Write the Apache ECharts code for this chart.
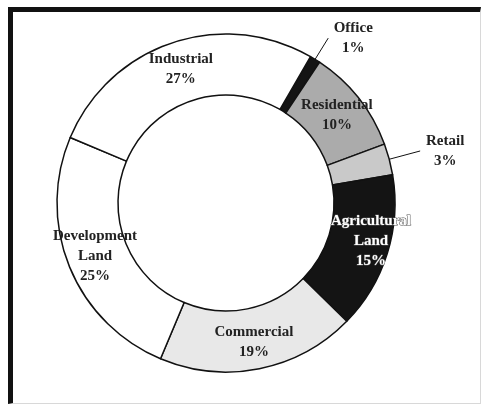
<!DOCTYPE html>
<html>
<head>
<meta charset="utf-8">
<script src="https://cdn.jsdelivr.net/npm/echarts@6/dist/echarts.min.js"></script>
<style>
  html, body { margin: 0; padding: 0; background: #fff; }
  #pieChart { position: absolute; left: 0; top: 0; width: 483px; height: 407px; }
  .frame {
    position: absolute; left: 8px; top: 7px; width: 467px; height: 391px;
    border-left: 5px solid #111; border-top: 5px solid #111;
    border-right: 1px solid #d8d8d8; border-bottom: 1px solid #d8d8d8;
    pointer-events: none;
  }
</style>
</head>
<body>
<div id="pieChart"></div>
<div class="frame"></div>
<script>
// clockwise from the thin Office slice
var categories = ['Office', 'Residential', 'Retail', 'Agricultural\nLand', 'Commercial', 'Development\nLand', 'Industrial'];
var shares = [1, 10, 3, 15, 19, 25, 27];
var sliceColors = ['#141414', '#ababab', '#c9c9c9', '#141414', '#e8e8e8', '#ffffff', '#ffffff'];
var outsideLabels = ['Office', 'Retail'];

var pieData = [];
for (var i = 0; i < categories.length; i++) {
    var item = {
        name: categories[i],
        value: shares[i],
        itemStyle: { color: sliceColors[i] }
    };
    if (outsideLabels.indexOf(categories[i]) >= 0) {
        item.label = {
            position: 'outside',
            formatter: '{t|{b}}\n{t|{c}%}',
            rich: {
                t: { width: 40, align: 'center', fontFamily: 'Liberation Serif', fontSize: 15, fontWeight: 'bold', color: '#222', lineHeight: 20 }
            }
        };
        item.labelLine = { show: true, length: categories[i] == 'Office' ? 25 : 32, length2: 0 };
    }
    if (categories[i] == 'Agricultural\nLand') {
        // white text, its ends spill past the black slice like the scan
        item.label = { color: '#fff', textBorderColor: '#555', textBorderWidth: 1, offset: [10, -4] };
    }
    pieData.push(item);
}

var pieChart = echarts.init(document.getElementById('pieChart'));
pieChart.setOption({
    animation: false,
    series: [{
        type: 'pie',
        center: [226, 203],
        radius: [108, 169],
        startAngle: 60,
        clockwise: true,
        avoidLabelOverlap: false,
        itemStyle: { borderColor: '#111', borderWidth: 1.5 },
        label: {
            show: true,
            position: 'inside',
            formatter: '{b}\n{c}%',
            fontFamily: 'Liberation Serif',
            fontSize: 15,
            fontWeight: 'bold',
            color: '#222',
            lineHeight: 20
        },
        labelLine: { show: false, smooth: false, lineStyle: { color: '#111', width: 1 } },
        emphasis: { disabled: true },
        data: pieData
    }]
});
</script>
</body>
</html>
